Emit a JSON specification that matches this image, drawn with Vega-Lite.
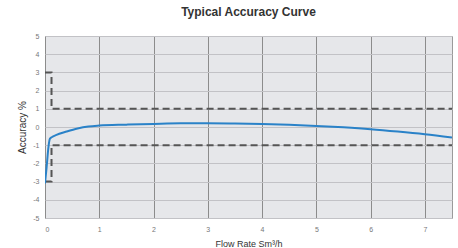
{
  "$schema": "https://vega.github.io/schema/vega-lite/v6.json",
  "width": 407,
  "height": 182,
  "autosize": "none",
  "padding": {"left": 45, "top": 36, "right": 6, "bottom": 30},
  "background": "#ffffff",
  "title": {"text": "Typical Accuracy Curve", "fontSize": 12, "fontWeight": "bold", "color": "#333333", "font": "Liberation Sans", "offset": 13, "anchor": "middle"},
  "config": {
    "view": {"fill": "#e6e7ea", "stroke": "#9a9a9a", "strokeWidth": 1},
    "axis": {"labelFont": "Liberation Sans", "titleFont": "Liberation Sans", "labelColor": "#777777", "titleColor": "#333333", "labelFontSize": 7, "titleFontSize": 9, "titleFontWeight": "normal", "ticks": false, "domain": false, "labelOverlap": false}
  },
  "datasets": {
    "curve": [
      {"q": 0.0, "acc": -3.1},
      {"q": 0.03, "acc": -2.2},
      {"q": 0.06, "acc": -1.2},
      {"q": 0.09, "acc": -0.65},
      {"q": 0.13, "acc": -0.55},
      {"q": 0.2, "acc": -0.45},
      {"q": 0.4, "acc": -0.25},
      {"q": 0.6, "acc": -0.08},
      {"q": 0.8, "acc": 0.03},
      {"q": 1.0, "acc": 0.08},
      {"q": 1.5, "acc": 0.13},
      {"q": 2.0, "acc": 0.17},
      {"q": 2.5, "acc": 0.2},
      {"q": 3.0, "acc": 0.2},
      {"q": 3.5, "acc": 0.19},
      {"q": 4.0, "acc": 0.16},
      {"q": 4.5, "acc": 0.12},
      {"q": 5.0, "acc": 0.06},
      {"q": 5.5, "acc": -0.02},
      {"q": 6.0, "acc": -0.12},
      {"q": 6.5, "acc": -0.25},
      {"q": 7.0, "acc": -0.4},
      {"q": 7.5, "acc": -0.58}
    ],
    "limits": [
      {"band": "upper", "o": 1, "q": 0.0, "acc": 3},
      {"band": "upper", "o": 2, "q": 0.12, "acc": 3},
      {"band": "upper", "o": 3, "q": 0.12, "acc": 1},
      {"band": "upper", "o": 4, "q": 7.5, "acc": 1},
      {"band": "lower", "o": 1, "q": 0.0, "acc": -3},
      {"band": "lower", "o": 2, "q": 0.12, "acc": -3},
      {"band": "lower", "o": 3, "q": 0.12, "acc": -1},
      {"band": "lower", "o": 4, "q": 7.5, "acc": -1}
    ]
  },
  "encoding": {
    "x": {"field": "q", "type": "quantitative", "scale": {"domain": [0, 7.5], "nice": false},
      "axis": {"values": [0, 1, 2, 3, 4, 5, 6, 7], "format": "d", "title": "Flow Rate Sm³/h", "grid": true, "gridColor": "#8c8c8c", "gridWidth": 1, "labelPadding": 7, "titlePadding": 7}},
    "y": {"field": "acc", "type": "quantitative", "scale": {"domain": [-5, 5], "nice": false},
      "axis": {"values": [-5, -4, -3, -2, -1, 0, 1, 2, 3, 4, 5], "labelExpr": "'' + datum.value", "title": "Accuracy %", "titleFontSize": 10, "grid": true, "gridColor": "#c2c2c6", "gridWidth": 1, "labelPadding": 6, "titlePadding": 5}}
  },
  "layer": [
    {
      "data": {"name": "limits"},
      "mark": {"type": "line", "color": "#555555", "strokeWidth": 2, "strokeDash": [7, 4], "clip": true},
      "encoding": {
        "detail": {"field": "band"},
        "order": {"field": "o", "type": "quantitative"}
      }
    },
    {
      "data": {"name": "curve"},
      "mark": {"type": "line", "color": "#2a82c8", "strokeWidth": 2, "interpolate": "monotone", "clip": true},
      "encoding": {}
    }
  ]
}
